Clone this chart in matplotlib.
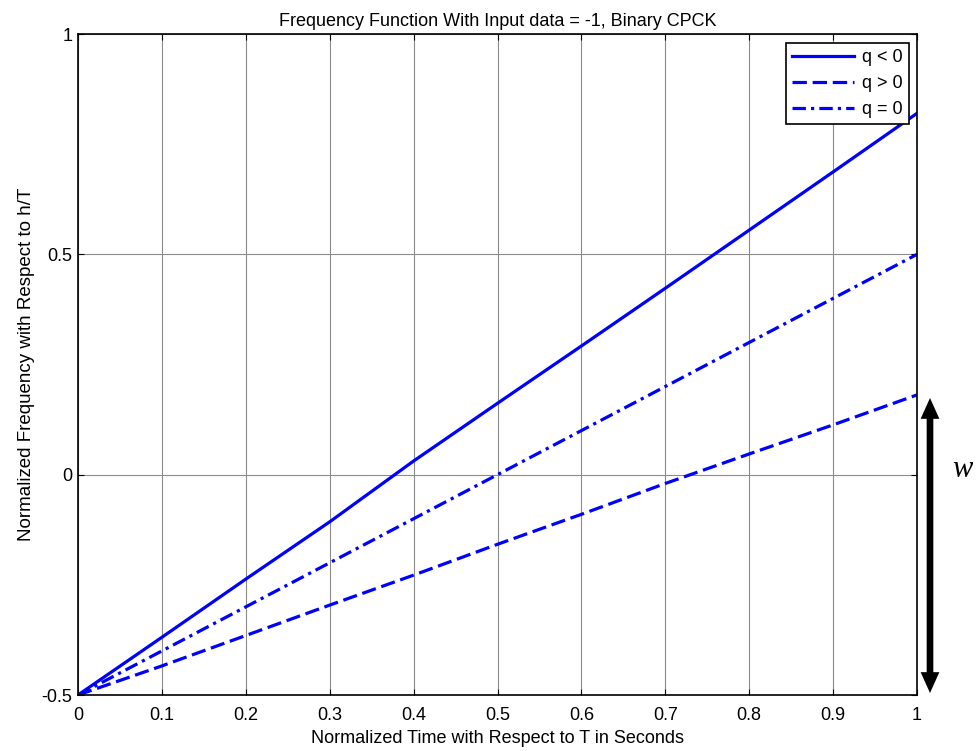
import matplotlib
matplotlib.use('Agg')
import matplotlib.pyplot as plt
from matplotlib.patches import FancyArrowPatch

plt.rcParams['font.family'] = ['Liberation Sans', 'DejaVu Sans']
plt.rcParams['font.size'] = 13

# normalized time
t = [0.0, 0.1, 0.2, 0.3, 0.4, 0.5, 0.6, 0.7, 0.8, 0.9, 1.0]
# q < 0
f_neg = [-0.5, -0.369, -0.237, -0.107, 0.031, 0.162, 0.292, 0.423, 0.555, 0.687, 0.820]
# q > 0
f_pos = [-0.5, -0.434, -0.365, -0.296, -0.228, -0.158, -0.090, -0.020, 0.047, 0.113, 0.181]
# q = 0
f_zero = [-0.5, -0.4, -0.3, -0.2, -0.1, 0.0, 0.1, 0.2, 0.3, 0.4, 0.5]

xticks = [0, 0.1, 0.2, 0.3, 0.4, 0.5, 0.6, 0.7, 0.8, 0.9, 1]
xticklabels = ['0', '0.1', '0.2', '0.3', '0.4', '0.5', '0.6', '0.7', '0.8', '0.9', '1']
yticks = [-0.5, 0, 0.5, 1]
yticklabels = ['-0.5', '0', '0.5', '1']

fig = plt.figure(figsize=(9.8, 7.51), dpi=100)
ax = fig.add_axes([78/980, 1 - 695/751, (917 - 78)/980, (695 - 34)/751])

lw = 2.3
ax.plot(t, f_neg, color='#0000ff', lw=lw, label='q < 0')
ax.plot(t, f_pos, color='#0000ff', lw=lw, dashes=(4.5, 1.8), label='q > 0')
ax.plot(t, f_zero, color='#0000ff', lw=lw, dashes=(4.2, 1.6, 1.0, 1.6), label='q = 0')

ax.set_xlim(0, 1)
ax.set_ylim(-0.5, 1)
ax.set_xticks(xticks)
ax.set_xticklabels(xticklabels)
ax.set_yticks(yticks)
ax.set_yticklabels(yticklabels)
ax.tick_params(direction='in', length=4, width=0.8, top=True, right=True)
ax.tick_params(axis='x', pad=9)
ax.tick_params(axis='y', pad=4)
ax.grid(True, color='#8c8c8c', lw=0.8)
ax.set_axisbelow(True)
for s in ax.spines.values():
    s.set_linewidth(1.2)

ax.set_title('Frequency Function With Input data = -1, Binary CPCK', fontsize=13, pad=6)
ax.set_xlabel('Normalized Time with Respect to T in Seconds', fontsize=13, labelpad=4)
ax.set_ylabel('Normalized Frequency with Respect to h/T', fontsize=13.5, labelpad=5)

leg = ax.legend(loc='upper right', bbox_to_anchor=(0.99, 0.987), fancybox=False,
                edgecolor='black', framealpha=1, handlelength=3.4, fontsize=13,
                borderpad=0.35, labelspacing=0.5, handletextpad=0.45, borderaxespad=0)
leg.get_frame().set_linewidth(1.2)

# double arrow for the w range: two filled arrows from the middle outwards
mid = 1 - 545/751
for end in (1 - 398/751, 1 - 693/751):
    arrow = FancyArrowPatch((930/980, mid), (930/980, end),
                            transform=fig.transFigure,
                            arrowstyle='simple,head_width=1.35,head_length=1.5,tail_width=0.48',
                            mutation_scale=10, lw=0, color='black',
                            shrinkA=0, shrinkB=0)
    fig.patches.append(arrow)
fig.text(962/980, 1 - 470/751, 'w', fontsize=22, style='italic',
         family='Liberation Serif', ha='center', va='center')

fig.savefig('out.png', dpi=100)
